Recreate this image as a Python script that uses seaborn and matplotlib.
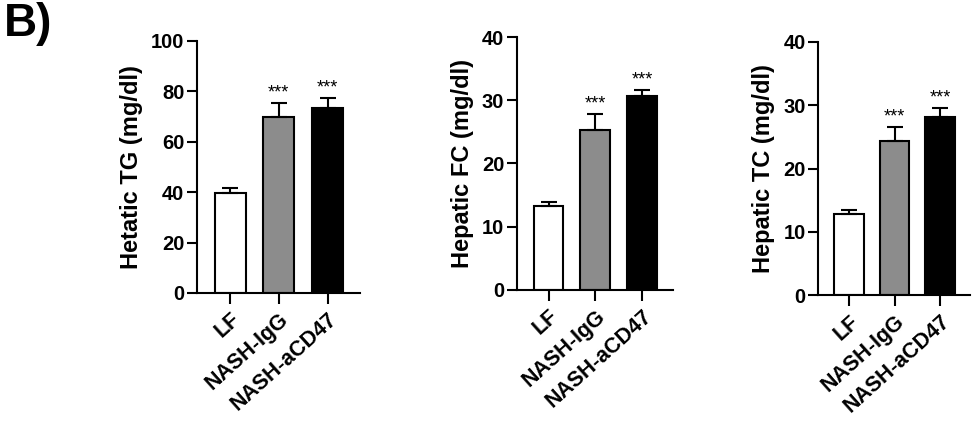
import seaborn as sns
import pandas as pd
import matplotlib.pyplot as plt

# group names and bar fill colours
groups = ["LF", "NASH-IgG", "NASH-aCD47"]
colors = ["#ffffff", "#8c8c8c", "#000000"]

# means and upper error (SEM)
tg_mean = [39.5, 69.8, 73.5]
tg_err = [2.0, 5.5, 4.0]
fc_mean = [13.3, 25.3, 30.6]
fc_err = [0.6, 2.6, 1.1]
tc_mean = [12.8, 24.3, 28.2]
tc_err = [0.6, 2.2, 1.3]

stars = ["", "***", "***"]

panels = [
    ("Hetatic TG (mg/dl)", tg_mean, tg_err, 100, [0, 20, 40, 60, 80, 100],
     [0.202, 0.328, 0.167, 0.578]),
    ("Hepatic FC (mg/dl)", fc_mean, fc_err, 40, [0, 10, 20, 30, 40],
     [0.530, 0.335, 0.160, 0.580]),
    ("Hepatic TC (mg/dl)", tc_mean, tc_err, 40, [0, 10, 20, 30, 40],
     [0.839, 0.323, 0.156, 0.581]),
]

sns.set_style("ticks")
plt.rcParams["font.family"] = ["Liberation Sans", "DejaVu Sans"]
plt.rcParams["font.weight"] = "bold"
plt.rcParams["text.color"] = "black"
plt.rcParams["xtick.color"] = "black"
plt.rcParams["ytick.color"] = "black"
plt.rcParams["axes.labelcolor"] = "black"

fig = plt.figure(figsize=(9.75, 4.36), dpi=100)

for label, means, errs, ymax, yticks, rect in panels:
    ax = fig.add_axes(rect)
    df = pd.DataFrame({"group": groups, "value": means})
    sns.barplot(data=df, x="group", y="value", hue="group", palette=colors,
                legend=False, width=0.64, edgecolor="black", linewidth=1.5,
                ax=ax)
    # GraphPad style: upper error bar only
    ax.errorbar(range(len(groups)), means, yerr=[[0] * len(errs), errs],
                fmt="none", ecolor="black", elinewidth=1.5, capsize=6,
                capthick=1.5, zorder=1)
    for i, (m, e, s) in enumerate(zip(means, errs, stars)):
        if s:
            ax.annotate(s, (i, m + e), xytext=(0, 1), textcoords="offset points",
                        ha="center", va="bottom", fontsize=13,
                        fontweight="normal")
    ax.set_ylim(0, ymax)
    ax.set_yticks(yticks)
    ax.set_xlim(-0.68, 2.66)
    ax.set_xlabel("")
    ax.set_ylabel(label, fontsize=17, fontweight="bold", labelpad=6)
    ax.set_xticks(range(len(groups)))
    ax.set_xticklabels(groups, rotation=42, ha="right", rotation_mode="anchor",
                       fontsize=15.5, fontweight="bold")
    ax.tick_params(axis="y", labelsize=14.5, width=1.5, length=7, pad=2)
    ax.tick_params(axis="x", width=1.5, length=8)
    for lab in ax.get_yticklabels():
        lab.set_fontweight("bold")
    sns.despine(ax=ax)
    for sp in ["left", "bottom"]:
        ax.spines[sp].set_linewidth(1.5)
        ax.spines[sp].set_color("black")

fig.text(0.004, 0.995, "B)", fontsize=33, fontweight="bold", va="top", ha="left")

plt.savefig("out.png", dpi=100)
